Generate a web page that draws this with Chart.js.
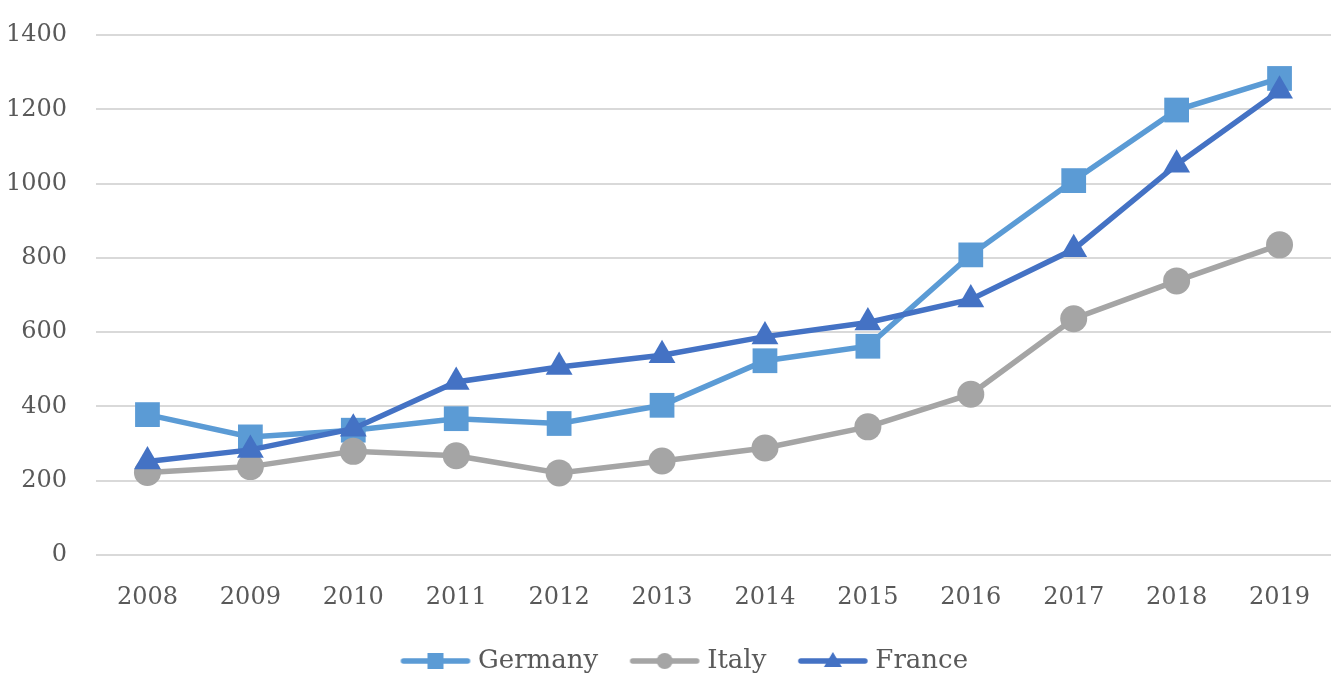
<!DOCTYPE html>
<html><head><meta charset="utf-8">
<script src="https://cdn.jsdelivr.net/npm/chart.js@4.4.1/dist/chart.umd.min.js"></script>
<style>html,body{margin:0;padding:0;background:#fff;overflow:hidden;}#wrap{width:1341px;height:681px;position:relative;}</style>
</head><body><div id="wrap"><canvas id="c"></canvas></div>
<script>
const years = ['2008','2009','2010','2011','2012','2013','2014','2015','2016','2017','2018','2019'];
const germany = [378, 318, 336, 367, 354, 403, 523, 562, 808, 1008, 1198, 1283];
const italy   = [222, 238, 279, 267, 221, 253, 288, 345, 433, 636, 738, 835];
const france  = [252, 283, 340, 466, 506, 538, 588, 626, 688, 823, 1051, 1250];
const yTicks  = [0, 200, 400, 600, 800, 1000, 1200, 1400];

const FONT = "'DejaVu Serif', serif";
const TEXT = '#595959';
const C_GER = '#5B9BD5', C_ITA = '#A5A5A5', C_FRA = '#4472C4';

const LEG_BOX = 82, LEG_IMG = 95;
function legendImg(color, style) {
  const c = document.createElement('canvas');
  c.width = LEG_IMG; c.height = 24;
  const g = c.getContext('2d');
  const x0 = LEG_IMG - 70, x1 = LEG_IMG - 2, cx = (x0 + x1) / 2;
  g.strokeStyle = color; g.lineWidth = 5.5; g.lineCap = 'round';
  g.beginPath(); g.moveTo(x0 + 2, 12); g.lineTo(x1 - 2, 12); g.stroke();
  g.fillStyle = color;
  g.beginPath();
  if (style === 'rect') g.rect(cx - 8, 4, 16, 16);
  else if (style === 'circle') g.arc(cx, 12, 8, 0, Math.PI * 2);
  else { g.moveTo(cx, 3); g.lineTo(cx + 9, 18); g.lineTo(cx - 9, 18); g.closePath(); }
  g.fill();
  return c;
}
const legendImgs = [legendImg(C_GER, 'rect'), legendImg(C_ITA, 'circle'), legendImg(C_FRA, 'triangle')];

const legendShift = {
  id: 'legendShift',
  afterLayout(chart) {
    const lg = chart.legend;
    if (lg) { lg.left += 20; lg.top += 3; lg.bottom += 3; }
  }
};

new Chart(document.getElementById('c'), {
  type: 'line',
  data: {
    labels: years,
    datasets: [
      { label: 'Germany', data: germany, borderColor: C_GER, backgroundColor: C_GER, borderWidth: 5.5,
        pointStyle: 'rect', pointRadius: 17.5, pointBorderWidth: 0, order: 3, tension: 0, clip: false },
      { label: 'Italy', data: italy, borderColor: C_ITA, backgroundColor: C_ITA, borderWidth: 5.5,
        pointStyle: 'circle', pointRadius: 13.5, pointBorderWidth: 0, order: 2, tension: 0, clip: false },
      { label: 'France', data: france, borderColor: C_FRA, backgroundColor: C_FRA, borderWidth: 5.5,
        pointStyle: 'triangle', pointRadius: 15.5, pointBorderWidth: 0, order: 1, tension: 0, clip: false }
    ]
  },
  plugins: [legendShift],
  options: {
    responsive: true,
    maintainAspectRatio: false,
    animation: false,
    layout: { autoPadding: false, padding: { left: 0, right: 10, top: 35, bottom: 0 } },
    plugins: {
      tooltip: { enabled: false },
      legend: {
        position: 'bottom',
        labels: {
          usePointStyle: true,
          pointStyleWidth: LEG_BOX,
          padding: 14,
          color: TEXT,
          font: { family: FONT, size: 26 },
          generateLabels: (chart) => chart.data.datasets.map((ds, i) => ({
            text: ds.label, pointStyle: legendImgs[i], fillStyle: ds.borderColor,
            strokeStyle: ds.borderColor, lineWidth: 0, fontColor: TEXT,
            hidden: !chart.isDatasetVisible(i), datasetIndex: i
          }))
        }
      }
    },
    scales: {
      x: {
        offset: true,
        grid: { display: false, drawTicks: false },
        border: { display: false },
        ticks: { color: TEXT, font: { family: FONT, size: 24 }, padding: 28, maxRotation: 0 },
        afterFit: (axis) => { axis.height = 76; axis.paddingLeft = 0; axis.paddingRight = 0; }
      },
      y: {
        min: 0, max: 1400,
        afterBuildTicks: (axis) => { axis.ticks = yTicks.map(v => ({ value: v })); },
        grid: { color: '#D9D9D9', lineWidth: 2, drawTicks: false },
        border: { display: false },
        ticks: { color: TEXT, font: { family: FONT, size: 24 }, padding: 29, callback: (v) => String(v) },
        afterFit: (axis) => { axis.width = 96; axis.paddingTop = 0; axis.paddingBottom = 0; }
      }
    }
  }
});
</script>
</body></html>
